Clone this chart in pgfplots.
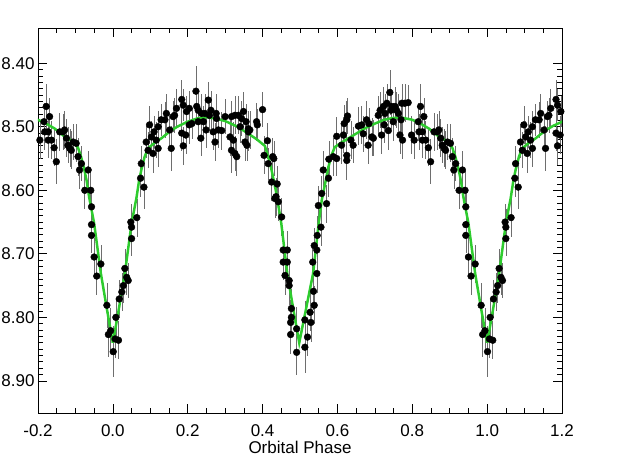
\documentclass[border=0pt]{standalone}
\usepackage{fontspec}
\setmainfont{Liberation Sans}
\usepackage{pgfplots}
\usepackage{pgfplotstable}
\pgfplotsset{compat=1.18}
\definecolor{model}{HTML}{2ECC2E}
\definecolor{errgray}{HTML}{6E6E6E}

% phase-folded light curve, one cycle (0..1); copies shifted by -1 / +1
\pgfplotstableread{
p m e
0.001 8.854 0.040
0.006 8.834 0.030
0.008 8.800 0.030
0.015 8.836 0.030
0.017 8.771 0.030
0.024 8.760 0.030
0.028 8.750 0.028
0.032 8.723 0.030
0.037 8.737 0.028
0.041 8.742 0.028
0.048 8.650 0.028
0.050 8.658 0.028
0.050 8.676 0.028
0.064 8.643 0.030
0.074 8.581 0.030
0.076 8.558 0.028
0.083 8.595 0.035
0.089 8.524 0.025
0.094 8.537 0.028
0.098 8.497 0.030
0.103 8.516 0.025
0.107 8.542 0.030
0.110 8.508 0.025
0.116 8.521 0.028
0.121 8.500 0.025
0.121 8.534 0.030
0.129 8.489 0.025
0.139 8.489 0.028
0.143 8.479 0.030
0.152 8.505 0.025
0.156 8.534 0.035
0.161 8.484 0.025
0.165 8.482 0.028
0.170 8.471 0.030
0.184 8.457 0.030
0.188 8.466 0.025
0.184 8.510 0.028
0.195 8.513 0.030
0.188 8.530 0.030
0.197 8.476 0.025
0.204 8.471 0.028
0.204 8.497 0.030
0.211 8.495 0.025
0.222 8.444 0.040
0.224 8.468 0.028
0.228 8.474 0.025
0.228 8.492 0.030
0.235 8.518 0.028
0.237 8.479 0.030
0.242 8.492 0.025
0.246 8.479 0.030
0.249 8.505 0.028
0.255 8.458 0.028
0.258 8.482 0.025
0.262 8.474 0.030
0.268 8.508 0.028
0.273 8.524 0.030
0.276 8.479 0.030
0.277 8.487 0.025
0.282 8.505 0.028
0.291 8.506 0.030
0.300 8.484 0.028
0.313 8.516 0.030
0.317 8.484 0.025
0.317 8.537 0.035
0.322 8.521 0.028
0.326 8.482 0.030
0.326 8.542 0.028
0.331 8.547 0.030
0.335 8.482 0.030
0.340 8.500 0.025
0.344 8.487 0.028
0.349 8.476 0.030
0.353 8.524 0.030
0.356 8.492 0.028
0.358 8.529 0.025
0.362 8.508 0.030
0.362 8.503 0.028
0.366 8.505 0.030
0.384 8.492 0.030
0.386 8.497 0.025
0.400 8.473 0.028
0.404 8.545 0.030
0.413 8.522 0.028
0.415 8.558 0.025
0.424 8.587 0.030
0.427 8.547 0.030
0.430 8.550 0.028
0.433 8.613 0.030
0.436 8.610 0.030
0.439 8.590 0.028
0.442 8.618 0.030
0.451 8.642 0.030
0.455 8.694 0.030
0.455 8.713 0.028
0.460 8.734 0.030
0.466 8.694 0.030
0.466 8.713 0.030
0.471 8.742 0.028
0.471 8.750 0.030
0.475 8.808 0.035
0.475 8.827 0.030
0.477 8.786 0.030
0.477 8.800 0.030
0.491 8.818 0.035
0.491 8.855 0.035
0.513 8.804 0.030
0.513 8.847 0.040
0.520 8.831 0.030
0.527 8.792 0.030
0.529 8.808 0.030
0.534 8.713 0.028
0.536 8.759 0.030
0.538 8.781 0.030
0.538 8.687 0.028
0.545 8.731 0.030
0.545 8.694 0.030
0.546 8.671 0.030
0.549 8.624 0.030
0.556 8.658 0.030
0.558 8.605 0.028
0.562 8.568 0.030
0.571 8.621 0.030
0.576 8.581 0.030
0.577 8.551 0.028
0.589 8.547 0.030
0.598 8.550 0.028
0.598 8.515 0.030
0.611 8.529 0.030
0.616 8.513 0.028
0.618 8.495 0.030
0.625 8.489 0.030
0.627 8.483 0.028
0.625 8.553 0.030
0.625 8.545 0.028
0.636 8.521 0.030
0.642 8.529 0.028
0.656 8.499 0.030
0.665 8.497 0.030
0.669 8.511 0.028
0.678 8.489 0.030
0.682 8.529 0.030
0.684 8.495 0.025
0.692 8.516 0.030
0.696 8.518 0.028
0.709 8.482 0.030
0.714 8.474 0.028
0.718 8.513 0.030
0.723 8.468 0.030
0.725 8.497 0.028
0.727 8.479 0.030
0.732 8.463 0.030
0.736 8.506 0.030
0.740 8.446 0.035
0.743 8.474 0.030
0.745 8.468 0.028
0.749 8.492 0.030
0.754 8.468 0.030
0.758 8.474 0.028
0.763 8.479 0.030
0.767 8.513 0.030
0.770 8.489 0.028
0.772 8.463 0.030
0.774 8.521 0.030
0.780 8.463 0.030
0.789 8.462 0.028
0.798 8.513 0.030
0.805 8.521 0.030
0.816 8.492 0.030
0.818 8.508 0.028
0.822 8.468 0.035
0.827 8.508 0.030
0.827 8.521 0.028
0.831 8.484 0.030
0.836 8.521 0.030
0.843 8.533 0.028
0.849 8.555 0.035
0.858 8.508 0.030
0.867 8.508 0.028
0.871 8.505 0.030
0.876 8.518 0.030
0.880 8.529 0.028
0.885 8.534 0.030
0.889 8.537 0.030
0.894 8.524 0.028
0.902 8.526 0.030
0.907 8.547 0.030
0.911 8.568 0.030
0.916 8.558 0.028
0.925 8.600 0.030
0.934 8.568 0.030
0.941 8.600 0.030
0.943 8.626 0.030
0.943 8.654 0.030
0.943 8.671 0.028
0.950 8.705 0.030
0.957 8.735 0.030
0.968 8.716 0.030
0.984 8.781 0.035
0.988 8.827 0.035
0.994 8.821 0.035
}\lcdata

% model light curve over one cycle
\pgfplotstableread{
p m
0.000 8.840
0.015 8.790
0.032 8.731
0.050 8.652
0.063 8.612
0.070 8.585
0.076 8.568
0.085 8.547
0.094 8.534
0.110 8.526
0.130 8.518
0.155 8.506
0.175 8.499
0.200 8.492
0.225 8.487
0.250 8.485
0.275 8.487
0.300 8.491
0.330 8.499
0.360 8.510
0.385 8.520
0.406 8.530
0.415 8.547
0.424 8.568
0.430 8.585
0.437 8.605
0.450 8.652
0.466 8.731
0.483 8.790
0.498 8.840
0.515 8.790
0.535 8.731
0.550 8.652
0.558 8.616
0.567 8.590
0.576 8.563
0.584 8.545
0.593 8.532
0.610 8.525
0.630 8.518
0.655 8.509
0.675 8.502
0.700 8.495
0.725 8.489
0.750 8.486
0.775 8.486
0.800 8.489
0.825 8.496
0.845 8.503
0.870 8.515
0.890 8.522
0.907 8.533
0.915 8.547
0.924 8.568
0.930 8.585
0.937 8.612
0.950 8.652
0.968 8.731
0.985 8.790
1.000 8.840
}\modeldata

\begin{document}
\begin{tikzpicture}
\path[use as bounding box] (-38bp,-57.7bp) rectangle (601bp,413.3bp);
\begin{axis}[
    at={(0,0)}, anchor=south west,
    scale only axis,
    width=524bp, height=385bp,
    xmin=-0.2, xmax=1.2,
    ymin=8.345, ymax=8.951,
    y dir=reverse,
    xtick={-0.2,0,...,1.2},
    ytick={8.4,8.5,...,8.9},
    minor x tick num=3,
    minor y tick num=9,
    major tick length=9bp,
    minor tick length=5bp,
    axis line style={line width=0.8pt},
    every tick/.style={black, line width=0.7pt},
    /pgf/number format/assume math mode=true,
    xticklabel style={/pgf/number format/fixed, /pgf/number format/fixed zerofill, /pgf/number format/precision=1},
    yticklabel style={/pgf/number format/fixed, /pgf/number format/fixed zerofill, /pgf/number format/precision=2},
    tick label style={font=\fontsize{17bp}{20bp}\selectfont},
    xticklabel style={anchor=base, yshift=-23.6bp},
    xlabel={Orbital Phase},
    xlabel style={font=\fontsize{17bp}{20bp}\selectfont, at={(axis description cs:0.5,0)}, anchor=base, yshift=-40.5bp},
    datapts/.style={only marks, mark=*, mark size=3.4bp, black,
        mark options={fill=black, draw=black},
        error bars/y dir=both, error bars/y explicit,
        error bars/error bar style={errgray, line width=0.6pt},
        error bars/error mark=none},
]
% data: main cycle and the two shifted copies
\addplot[datapts] table[x=p, y=m, y error=e] {\lcdata};
\addplot[datapts, restrict x to domain=-0.2:0] table[x expr=\thisrow{p}-1, y=m, y error=e] {\lcdata};
\addplot[datapts, restrict x to domain=1:1.2] table[x expr=\thisrow{p}+1, y=m, y error=e] {\lcdata};
% model
\addplot[model, line width=2.5pt, no marks] table[x=p, y=m] {\modeldata};
\addplot[model, line width=2.5pt, no marks, restrict x to domain=-0.3:0.01] table[x expr=\thisrow{p}-1, y=m] {\modeldata};
\addplot[model, line width=2.5pt, no marks, restrict x to domain=0.99:1.3] table[x expr=\thisrow{p}+1, y=m] {\modeldata};
\end{axis}
\end{tikzpicture}
\end{document}
